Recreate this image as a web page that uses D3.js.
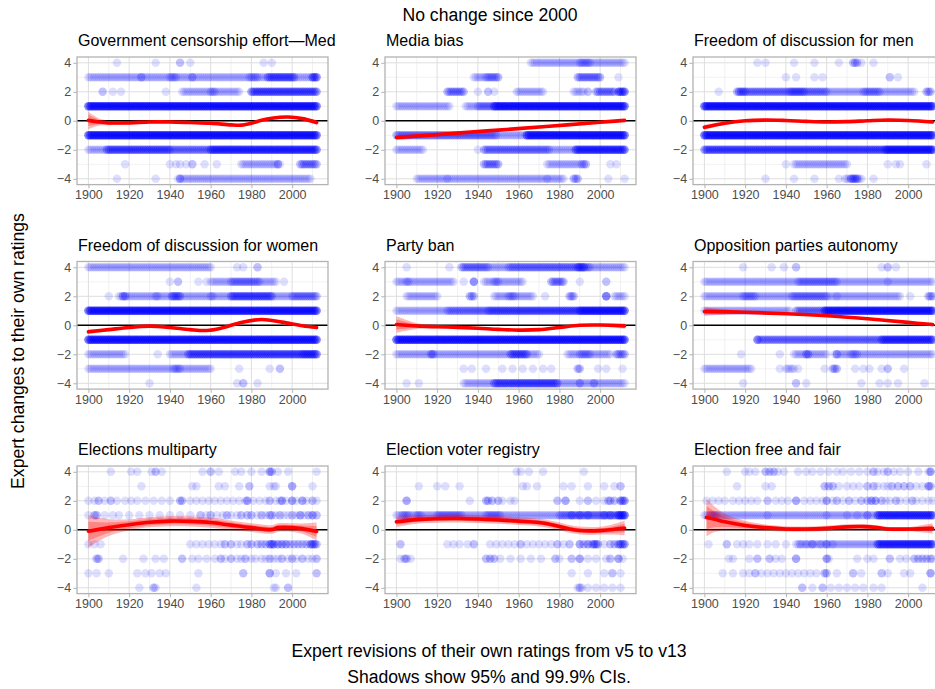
<!DOCTYPE html>
<html>
<head>
<meta charset="utf-8">
<script src="https://cdn.jsdelivr.net/npm/d3@7"></script>
<style>
  body { margin: 0; background: #fff; }
  svg { display: block; }
  text { font-family: "Liberation Sans", Arial, sans-serif; }
</style>
</head>
<body>
<svg id="chart" width="935" height="689"></svg>
<script>
// ---- Facet titles and axis ticks ----
const panelTitles = [
  "Government censorship effort\u2014Med", "Media bias", "Freedom of discussion for men",
  "Freedom of discussion for women", "Party ban", "Opposition parties autonomy",
  "Elections multiparty", "Election voter registry", "Election free and fair"
];
const xTicks = [1900, 1920, 1940, 1960, 1980, 2000];
const xMinorTicks = [1910, 1930, 1950, 1970, 1990, 2010];
const yTicks = [-4, -2, 0, 2, 4];
const yMinorTicks = [-3, -1, 1, 3];

// ---- Expert ratings changes ----
// runs: [change, firstYear, lastYear, ratingsPerYear]
// dots: [change, year, count]
const censorshipRuns = [
  [3,1900,2012,1],[3,1940,1943,1],[3,1979,1983,1],[3,1988,2001,2],[3,2010,2012,3],
  [2,1946,1974,1],[2,1960,1962,1],[2,1980,2012,3],
  [1,1900,2012,5],[-1,1900,2012,5],
  [-2,1900,1908,1],[-2,1909,1940,3],[-2,1941,1959,2],[-2,1960,2012,4],
  [-3,1975,1994,1],[-3,2004,2012,2],
  [-4,1944,1975,1],[-4,1976,2009,1]
];
const censorshipDots = [
  [4,1914,1],[4,1933,1],[4,1945,2],[4,1950,1],[4,1986,1],[4,1990,1],
  [3,1926,2],[3,1951,2],
  [2,1907,2],[2,1912,1],[2,1916,1],[2,1938,1],
  [-3,1918,1],[-3,1940,1],[-3,1943,1],[-3,1945,1],[-3,1948,1],[-3,1951,2],[-3,1957,1],[-3,1963,1],[-3,1993,2],
  [-4,1914,1],[-4,1933,1],[-4,1945,2]
];
const mediaRuns = [
  [4,1966,2012,1],[4,1990,1995,1],
  [3,1938,1943,1],[3,1944,1950,2],[3,1989,2000,2],
  [2,1925,1933,2],[2,1959,1972,1],[2,1987,1992,1],[2,1998,2007,2],[2,2009,2012,4],
  [1,1900,1926,1],[1,1934,1947,1],[1,1940,1947,1],[1,1948,2012,5],
  [-1,1900,1949,2],[-1,1950,1963,1],[-1,1964,2012,5],
  [-2,1900,1913,1],[-2,1943,1975,2],[-2,1976,1987,1],[-2,1988,2012,4],
  [-3,1943,1950,2],[-3,1974,1993,1],[-3,1991,1993,1],
  [-4,1910,1982,1],[-4,1987,1989,2]
];
const mediaDots = [
  [3,2009,1],
  [2,1940,1],[2,1945,2],[2,1948,1],[2,1994,2],
  [-2,1940,1],
  [-3,2005,1],[-3,2008,1],
  [-4,1925,1],[-4,1974,1],[-4,2004,1],[-4,2012,1]
];
const menRuns = [
  [4,1973,1975,2],
  [2,1916,2003,1],[2,1916,1960,1],[2,1917,1920,1],[2,1942,1949,1],[2,1978,1986,1],[2,2009,2011,2],
  [1,1900,2012,5],[-1,1900,2012,5],
  [-2,1900,1988,3],[-2,1989,2012,5],
  [-3,1944,1970,1],
  [-4,1969,1977,1],[-4,1972,1975,2]
];
const menDots = [
  [4,1926,1],[4,1930,1],[4,1944,1],[4,1954,1],[4,1966,1],[4,1977,1],[4,1983,1],
  [3,1940,1],[3,1945,1],[3,1954,1],[3,1958,1],[3,1991,2],[3,1995,1],
  [2,1907,1],
  [-3,1940,1],[-3,1990,1],[-3,1994,1],[-3,1996,1],[-3,2009,1],
  [-4,1930,1],[-4,1944,1],[-4,1954,1],[-4,1966,1],[-4,1983,1]
];
const womenRuns = [
  [4,1900,1960,1],
  [3,1960,1992,1],[3,1970,1984,1],
  [2,1915,2012,1],[2,1917,1918,2],[2,1933,1934,1],[2,1941,1945,2],[2,1960,1961,1],[2,1970,1990,2],[2,2000,2012,1],
  [1,1900,2012,5],[-1,1900,2012,5],
  [-2,1900,1918,1],[-2,1940,1948,1],[-2,1949,2012,3],[-2,2005,2012,1],
  [-3,1900,1960,1],[-3,1942,1945,1]
];
const womenDots = [
  [4,1973,1],[4,1976,1],[4,1983,2],
  [3,1940,1],[3,1944,2],[3,1954,1],[3,1958,1],[3,1996,1],
  [2,1910,1],
  [-2,1934,1],
  [-3,1974,1],[-3,1989,1],[-3,1994,2],
  [-4,1930,1],[-4,1973,1],[-4,1976,2],[-4,1983,1]
];
const partyRuns = [
  [4,1932,2012,1],[4,1932,1945,1],[4,1955,1995,1],[4,1989,1992,2],
  [3,1900,1928,1],[3,1905,1906,1],[3,1943,1962,1],[3,1948,1950,1],[3,1976,1982,2],
  [2,1905,1920,1],[2,1936,1938,2],[2,1948,1967,1],[2,1955,1958,1],[2,1985,1987,2],[2,2007,2012,1],
  [1,1900,1924,1],[1,1925,1944,2],[1,1945,1989,3],[1,1990,2012,5],
  [-1,1900,2012,5],
  [-2,1900,1970,1],[-2,1917,1918,2],[-2,1956,1964,2],[-2,1984,2005,1],[-2,1990,1995,1],[-2,2008,2012,2],
  [-3,1989,1990,2],
  [-4,1933,1947,1],[-4,1948,1979,3],[-4,1980,2012,1]
];
const partyDots = [
  [4,1905,1],[4,1926,1],
  [3,1933,1],[3,1938,4],[3,1990,1],[3,2003,2],
  [2,1973,1],[2,2003,5],
  [-3,1933,1],[-3,1937,1],[-3,1944,1],[-3,1952,1],[-3,1957,1],[-3,1962,1],[-3,1967,1],[-3,1972,1],
  [-3,1976,1],[-3,1999,1],[-3,2003,1],[-3,2011,1],
  [-4,1905,1],[-4,1911,1],[-4,1990,2],[-4,1997,2]
];
const oppositionRuns = [
  [3,1900,2012,1],[3,1946,1965,1],
  [2,1900,1996,1],[2,1919,1925,1],[2,1943,1960,1],[2,2010,2012,2],
  [1,1900,1942,1],[1,1945,1958,2],[1,1959,2012,5],
  [-1,1926,1986,2],[-1,1987,2012,4],
  [-2,1944,1960,1],[-2,1950,1951,2],[-2,1964,2012,1],[-2,1972,1975,1],
  [-3,1900,1923,1],[-3,1940,1944,1],[-3,1963,1965,2]
];
const oppositionDots = [
  [4,1919,1],[4,1933,1],[4,1939,1],[4,1945,2],[4,1987,1],[4,1990,2],[4,1994,1],
  [3,1990,1],
  [2,1965,1],[2,2001,1],
  [-1,1926,2],
  [-2,1918,1],[-2,1937,1],[-2,1965,2],
  [-3,1937,1],[-3,1946,1],[-3,1959,1],[-3,1974,1],[-3,1978,1],[-3,1981,1],[-3,1987,1],[-3,1990,2],[-3,1998,1],
  [-4,1919,1],[-4,1945,2],[-4,1950,1],[-4,1977,1],[-4,1986,1],[-4,1990,1],[-4,1995,1],[-4,2008,1]
];
const multipartyRuns = [];
const multipartyDots = [
  [4,1911,1],[4,1921,1],[4,1924,1],[4,1931,1],[4,1933,2],[4,1936,1],[4,1956,1],[4,1960,2],[4,1964,1],
  [4,1972,1],[4,1975,1],[4,1980,1],[4,1985,1],[4,1989,3],[4,1990,2],[4,1993,1],[4,1998,1],[4,2012,1],
  [3,1926,1],[3,1951,1],[3,1953,1],[3,1964,1],[3,1967,1],[3,1974,1],[3,1979,2],[3,1989,1],[3,1991,1],
  [3,1992,1],[3,2000,3],[3,2010,1],
  [2,1900,1],[2,1903,1],[2,1905,2],[2,1908,1],[2,1911,2],[2,1914,1],[2,1918,1],[2,1921,1],[2,1924,1],
  [2,1928,1],[2,1932,1],[2,1936,1],[2,1940,1],[2,1945,2],[2,1946,2],[2,1950,1],[2,1953,1],[2,1956,1],
  [2,1959,1],[2,1962,1],[2,1965,1],[2,1968,1],[2,1971,1],[2,1974,1],[2,1977,1],[2,1978,3],[2,1981,1],
  [2,1984,1],[2,1987,1],[2,1989,2],[2,1992,1],[2,1994,1],[2,1995,3],[2,1997,1],[2,2000,3],[2,2002,1],
  [2,2005,3],[2,2007,1],[2,2010,2],[2,2012,1],
  [1,1900,1],[1,1903,2],[1,1904,2],[1,1908,1],[1,1912,1],[1,1915,1],[1,1920,1],[1,1925,1],[1,1930,1],
  [1,1935,1],[1,1940,1],[1,1945,1],[1,1950,1],[1,1955,2],[1,1958,1],[1,1960,2],[1,1963,1],[1,1966,1],
  [1,1968,2],[1,1970,1],[1,1973,1],[1,1975,2],[1,1978,2],[1,1980,2],[1,1983,1],[1,1985,2],[1,1987,1],
  [1,1989,2],[1,1990,2],[1,1992,1],[1,1994,2],[1,1996,1],[1,1998,1],[1,2000,2],[1,2002,1],[1,2004,3],
  [1,2006,1],[1,2008,2],[1,2010,3],[1,2012,2],
  [-1,1900,1],[-1,1903,1],[-1,1906,1],[-1,1950,1],[-1,1953,1],[-1,1956,1],[-1,1959,1],[-1,1962,1],
  [-1,1965,1],[-1,1967,2],[-1,1970,2],[-1,1973,1],[-1,1975,1],[-1,1978,2],[-1,1980,2],[-1,1983,2],
  [-1,1985,2],[-1,1987,2],[-1,1989,3],[-1,1990,3],[-1,1991,3],[-1,1993,3],[-1,1995,3],[-1,1997,3],
  [-1,1999,2],[-1,2001,2],[-1,2003,2],[-1,2005,2],[-1,2007,2],[-1,2009,3],[-1,2010,3],[-1,2011,3],[-1,2012,2],
  [-2,1904,2],[-2,1905,2],[-2,1917,1],[-2,1927,1],[-2,1933,1],[-2,1937,1],[-2,1946,2],[-2,1951,1],
  [-2,1954,1],[-2,1958,1],[-2,1962,1],[-2,1965,2],[-2,1967,1],[-2,1970,2],[-2,1973,1],[-2,1975,1],
  [-2,1977,2],[-2,1980,1],[-2,1982,1],[-2,1985,1],[-2,1987,1],[-2,1989,2],[-2,1991,1],[-2,1993,1],
  [-2,1995,2],[-2,1998,1],[-2,2000,2],[-2,2002,1],[-2,2005,2],[-2,2008,1],[-2,2010,1],[-2,2012,2],
  [-3,1900,1],[-3,1904,1],[-3,1910,1],[-3,1924,1],[-3,1928,1],[-3,1931,1],[-3,1935,1],[-3,1938,1],
  [-3,1954,1],[-3,1976,2],[-3,1989,3],[-3,1992,1],[-3,1997,1],[-3,2002,1],[-3,2012,2],
  [-4,1925,1],[-4,1932,2],[-4,1933,1],[-4,1953,1],[-4,1991,1],[-4,1992,1],[-4,1998,2]
];
const registryRuns = [
  [1,1900,1979,1],[1,1903,1906,1],[1,1910,1912,1],[1,1920,1932,1],[1,1944,1951,1],
  [1,1980,2012,2],[1,2009,2012,3]
];
const registryDots = [
  [4,1959,1],[4,1961,1],[4,1965,1],[4,1972,1],[4,1992,1],
  [3,1911,1],[3,1920,1],[3,1924,1],[3,1931,1],[3,1962,1],[3,1964,1],[3,1969,1],[3,1982,1],[3,1986,1],
  [3,1994,1],[3,2002,1],[3,2007,1],[3,2010,2],
  [2,1905,3],[2,1936,1],[2,1944,2],[2,1945,2],[2,1947,2],[2,1950,2],[2,1952,1],[2,1956,1],[2,1958,1],
  [2,1979,2],[2,1983,3],[2,1990,1],[2,1994,2],[2,1998,1],[2,2002,1],[2,2004,2],[2,2005,2],[2,2007,2],
  [2,2010,3],[2,2011,3],[2,2012,3],
  [1,1986,2],[1,1990,2],[1,1994,2],[1,2002,2],[1,2005,2],
  [-1,1902,2],[-1,1925,1],[-1,1928,1],[-1,1931,1],[-1,1935,1],[-1,1938,2],[-1,1946,1],[-1,1949,1],
  [-1,1952,1],[-1,1955,1],[-1,1958,1],[-1,1961,2],[-1,1964,1],[-1,1967,1],[-1,1970,1],[-1,1973,1],
  [-1,1976,1],[-1,1979,2],[-1,1982,1],[-1,1985,2],[-1,1990,3],[-1,1992,2],[-1,1994,3],[-1,1996,2],
  [-1,1997,3],[-1,1998,3],[-1,1999,2],[-1,2002,1],[-1,2005,2],[-1,2007,2],[-1,2009,3],[-1,2010,3],
  [-1,2011,3],[-1,2012,3],
  [-2,1902,1],[-2,1904,2],[-2,1905,2],[-2,1907,1],[-2,1944,2],[-2,1946,2],[-2,1948,2],[-2,1951,1],
  [-2,1956,1],[-2,1961,1],[-2,1966,1],[-2,1971,1],[-2,1978,2],[-2,1980,1],[-2,1986,2],[-2,1990,3],
  [-2,1994,1],[-2,1998,1],[-2,2003,1],[-2,2005,2],[-2,2009,3],[-2,2011,1],
  [-3,1986,1],[-3,1994,1],[-3,2002,1],[-3,2006,2],[-3,2010,1],
  [-4,1989,1],[-4,1990,2],[-4,1991,1],[-4,1994,1],[-4,1998,1],[-4,2002,1],[-4,2006,1],[-4,2010,1]
];
const fairRuns = [
  [1,1900,2012,1],[1,1903,1906,1],[1,1985,2012,3],
  [-1,1945,1965,1],[-1,1966,1984,1],[-1,1985,2012,4]
];
const fairDots = [
  [4,1911,1],[4,1920,1],[4,1922,1],[4,1925,1],[4,1930,2],[4,1932,2],[4,1934,2],[4,1936,1],[4,1939,1],
  [4,1946,1],[4,1950,1],[4,1953,1],[4,1957,1],[4,1961,1],[4,1965,1],[4,1968,1],[4,1972,1],[4,1976,1],
  [4,1980,1],[4,1983,2],[4,1985,1],[4,1988,1],[4,1990,2],[4,1993,1],[4,1996,1],[4,2000,1],[4,2005,1],
  [4,2010,1],[4,2011,3],
  [3,1916,1],[3,1930,1],[3,1933,1],[3,1959,2],[3,1961,2],[3,1963,2],[3,1966,1],[3,1970,1],[3,1973,1],
  [3,1976,1],[3,1980,2],[3,1983,2],[3,1985,1],[3,1988,1],[3,1990,1],[3,1992,2],[3,1995,2],[3,1998,2],
  [3,2001,2],[3,2004,1],[3,2007,1],[3,2010,3],[3,2011,2],
  [2,1901,1],[2,1904,1],[2,1907,1],[2,1910,1],[2,1914,1],[2,1917,1],[2,1920,1],[2,1923,1],[2,1926,1],
  [2,1931,2],[2,1935,1],[2,1938,1],[2,1941,1],[2,1945,3],[2,1949,1],[2,1952,1],[2,1955,1],[2,1958,1],
  [2,1960,3],[2,1963,1],[2,1965,2],[2,1968,1],[2,1971,2],[2,1974,1],[2,1977,2],[2,1980,2],[2,1982,3],
  [2,1984,3],[2,1987,2],[2,1989,1],[2,1991,1],[2,1994,2],[2,1996,1],[2,1999,1],[2,2002,2],[2,2004,1],
  [2,2007,1],[2,2010,1],[2,2012,1],
  [1,1931,1],[1,1960,1],[1,1970,1],[1,1975,1],[1,1980,2],
  [-1,1902,1],[-1,1911,2],[-1,1916,1],[-1,1919,1],[-1,1922,1],[-1,1926,1],[-1,1931,1],[-1,1935,1],
  [-1,1940,1],[-1,1947,1],[-1,1950,1],[-1,1953,2],[-1,1957,1],[-1,1960,2],[-1,1963,1],
  [-2,1912,1],[-2,1914,1],[-2,1922,1],[-2,1926,2],[-2,1932,2],[-2,1935,1],[-2,1938,1],[-2,1945,3],
  [-2,1960,3],[-2,1961,1],[-2,1975,1],[-2,1980,1],[-2,1983,1],[-2,1991,2],[-2,1996,1],[-2,1999,1],
  [-2,2003,2],[-2,2005,2],[-2,2007,2],[-2,2009,2],[-2,2011,2],[-2,2012,1],
  [-3,1909,1],[-3,1914,1],[-3,1919,1],[-3,1922,1],[-3,1925,2],[-3,1928,1],[-3,1931,1],[-3,1934,1],
  [-3,1937,1],[-3,1940,1],[-3,1943,1],[-3,1946,1],[-3,1949,1],[-3,1952,1],[-3,1955,1],[-3,1959,2],
  [-3,1960,2],[-3,1965,1],[-3,1973,2],[-3,1977,1],[-3,1987,2],[-3,1990,1],[-3,1998,1],[-3,2001,1],[-3,2011,3],
  [-4,1948,2],[-4,1953,1],[-4,1958,2],[-4,1962,1],[-4,1966,1],[-4,1970,1],[-4,1974,1],[-4,1978,1],
  [-4,1983,1],[-4,1987,1],[-4,2007,1]
];

// ---- Smoothed trend: [year, fit, half-width 95% CI, half-width 99.9% CI] ----
const censorshipFit = [
  [1900,0.03,0.38,0.6],[1905,-0.08,0.16,0.26],[1910,-0.15,0.1,0.16],[1920,-0.14,0.07,0.12],
  [1930,-0.08,0.06,0.1],[1940,-0.08,0.06,0.1],[1950,-0.12,0.06,0.09],[1960,-0.17,0.05,0.09],
  [1970,-0.28,0.05,0.09],[1975,-0.3,0.05,0.09],[1980,-0.17,0.05,0.09],[1985,0.04,0.05,0.09],
  [1990,0.18,0.05,0.09],[1998,0.26,0.05,0.09],[2005,0.15,0.06,0.1],[2012,-0.12,0.1,0.17]
];
const mediaFit = [
  [1900,-1.15,0.1,0.17],[1925,-0.9,0.05,0.09],[1950,-0.64,0.04,0.07],[1975,-0.38,0.03,0.05],
  [2000,-0.1,0.03,0.05],[2012,0.03,0.04,0.07]
];
const menFit = [
  [1900,-0.45,0.1,0.17],[1910,-0.17,0.06,0.1],[1920,0.0,0.05,0.08],[1930,0.05,0.05,0.08],
  [1940,0.02,0.05,0.08],[1950,-0.04,0.05,0.08],[1960,-0.08,0.05,0.08],[1970,-0.06,0.05,0.08],
  [1980,0.0,0.05,0.08],[1990,0.05,0.05,0.08],[2000,0.02,0.05,0.08],[2012,-0.08,0.07,0.12]
];
const womenFit = [
  [1900,-0.45,0.1,0.17],[1910,-0.3,0.06,0.1],[1920,-0.15,0.05,0.09],[1930,-0.06,0.05,0.09],
  [1940,-0.15,0.05,0.09],[1950,-0.3,0.05,0.09],[1958,-0.36,0.05,0.09],[1965,-0.2,0.05,0.09],
  [1975,0.2,0.05,0.09],[1985,0.4,0.05,0.09],[1995,0.22,0.05,0.09],[2005,-0.03,0.05,0.09],
  [2012,-0.15,0.07,0.12]
];
const partyFit = [
  [1900,0.05,0.35,0.57],[1910,-0.05,0.12,0.2],[1920,-0.1,0.07,0.12],[1930,-0.14,0.06,0.1],
  [1940,-0.2,0.05,0.09],[1950,-0.28,0.05,0.09],[1960,-0.33,0.05,0.09],[1970,-0.3,0.05,0.09],
  [1980,-0.15,0.05,0.09],[1990,0.0,0.05,0.09],[2000,0.02,0.06,0.1],[2012,-0.05,0.12,0.2]
];
const oppositionFit = [
  [1900,0.95,0.18,0.3],[1920,0.9,0.06,0.1],[1940,0.8,0.04,0.07],[1960,0.66,0.04,0.07],
  [1980,0.45,0.04,0.07],[2000,0.2,0.04,0.07],[2012,0.05,0.05,0.09]
];
const multipartyFit = [
  [1900,-0.1,0.65,1.1],[1910,0.15,0.35,0.58],[1920,0.35,0.24,0.38],[1930,0.52,0.22,0.35],
  [1940,0.6,0.22,0.35],[1950,0.58,0.22,0.35],[1960,0.5,0.22,0.35],[1970,0.32,0.2,0.33],
  [1980,0.15,0.18,0.3],[1990,0.02,0.18,0.3],[1993,0.15,0.18,0.3],[2000,0.15,0.18,0.3],
  [2005,0.08,0.22,0.36],[2012,-0.12,0.38,0.62]
];
const registryFit = [
  [1900,0.55,0.22,0.36],[1910,0.7,0.17,0.28],[1920,0.76,0.16,0.27],[1930,0.78,0.16,0.27],
  [1940,0.74,0.16,0.27],[1950,0.68,0.16,0.27],[1960,0.6,0.16,0.27],[1970,0.5,0.16,0.27],
  [1978,0.3,0.16,0.27],[1985,0.06,0.16,0.27],[1990,-0.05,0.16,0.27],[1995,-0.08,0.16,0.27],
  [2000,-0.06,0.16,0.27],[2005,0.0,0.2,0.33],[2012,0.12,0.3,0.5]
];
const fairFit = [
  [1901,0.85,0.8,1.3],[1905,0.72,0.55,0.88],[1910,0.55,0.35,0.56],[1920,0.3,0.2,0.32],
  [1930,0.15,0.13,0.21],[1940,0.06,0.11,0.18],[1950,0.05,0.11,0.18],[1960,0.1,0.11,0.18],
  [1970,0.2,0.11,0.18],[1978,0.22,0.11,0.18],[1985,0.15,0.09,0.15],[1990,0.06,0.09,0.15],
  [2000,0.05,0.09,0.15],[2012,0.1,0.22,0.36]
];

const panels = [
  {runs: censorshipRuns, dots: censorshipDots, fit: censorshipFit},
  {runs: mediaRuns, dots: mediaDots, fit: mediaFit},
  {runs: menRuns, dots: menDots, fit: menFit},
  {runs: womenRuns, dots: womenDots, fit: womenFit},
  {runs: partyRuns, dots: partyDots, fit: partyFit},
  {runs: oppositionRuns, dots: oppositionDots, fit: oppositionFit},
  {runs: multipartyRuns, dots: multipartyDots, fit: multipartyFit},
  {runs: registryRuns, dots: registryDots, fit: registryFit},
  {runs: fairRuns, dots: fairDots, fit: fairFit}
].map((p, i) => Object.assign(p, {title: panelTitles[i]}));

// ---- Layout ----
const colLeft = [77, 385, 693];
const rowTop = [57, 261.5, 466];
const panelW = 251, panelH = 127.6;

const svg = d3.select("#chart");
svg.append("rect").attr("width", 935).attr("height", 689).attr("fill", "#fff");

const x = d3.scaleLinear().domain([1894.4, 2017.6]).range([0, panelW]);
const y = d3.scaleLinear().domain([-4.4, 4.4]).range([panelH, 0]);

function expandPoints(p) {
  const pts = [];
  p.runs.forEach(([lvl, a, b, n]) => {
    for (let yr = a; yr <= b; yr++) for (let k = 0; k < n; k++) pts.push([yr, lvl]);
  });
  p.dots.forEach(([lvl, yr, n]) => {
    for (let k = 0; k < n; k++) pts.push([yr, lvl]);
  });
  return pts;
}

const curve = d3.curveCatmullRom.alpha(0.5);
const band = (key) => d3.area()
  .x(d => x(d[0]))
  .y0(d => y(d[1] - d[key]))
  .y1(d => y(d[1] + d[key]))
  .curve(curve);
const trend = d3.line().x(d => x(d[0])).y(d => y(d[1])).curve(curve);

panels.forEach((p, i) => {
  const gx = colLeft[i % 3], gy = rowTop[Math.floor(i / 3)];
  const g = svg.append("g").attr("transform", `translate(${gx},${gy})`);

  g.append("rect").attr("width", panelW).attr("height", panelH).attr("fill", "#fff");

  // grid
  g.selectAll(".gxm").data(xMinorTicks).join("line")
    .attr("x1", d => x(d)).attr("x2", d => x(d)).attr("y1", 0).attr("y2", panelH)
    .attr("stroke", "#e8e8e8").attr("stroke-width", 0.6);
  g.selectAll(".gym").data(yMinorTicks).join("line")
    .attr("x1", 0).attr("x2", panelW).attr("y1", d => y(d)).attr("y2", d => y(d))
    .attr("stroke", "#e8e8e8").attr("stroke-width", 0.6);
  g.selectAll(".gxM").data(xTicks).join("line")
    .attr("x1", d => x(d)).attr("x2", d => x(d)).attr("y1", 0).attr("y2", panelH)
    .attr("stroke", "#dedede").attr("stroke-width", 1);
  g.selectAll(".gyM").data(yTicks).join("line")
    .attr("x1", 0).attr("x2", panelW).attr("y1", d => y(d)).attr("y2", d => y(d))
    .attr("stroke", "#dedede").attr("stroke-width", 1);

  // ratings
  g.append("g").selectAll("circle").data(expandPoints(p)).join("circle")
    .attr("cx", d => x(d[0])).attr("cy", d => y(d[1])).attr("r", 4.2)
    .attr("fill", "#0000ff").attr("fill-opacity", 0.13);

  // no-change reference
  g.append("line").attr("x1", 0).attr("x2", panelW).attr("y1", y(0)).attr("y2", y(0))
    .attr("stroke", "#000").attr("stroke-width", 1.5);

  // confidence bands and smooth
  g.append("path").datum(p.fit).attr("d", band(3)).attr("fill", "#ff0000").attr("fill-opacity", 0.28);
  g.append("path").datum(p.fit).attr("d", band(2)).attr("fill", "#ff0000").attr("fill-opacity", 0.28);
  g.append("path").datum(p.fit).attr("d", trend).attr("fill", "none")
    .attr("stroke", "#ff0000").attr("stroke-width", 3.6).attr("stroke-linecap", "round");

  // border
  g.append("rect").attr("width", panelW).attr("height", panelH)
    .attr("fill", "none").attr("stroke", "#b3b3b3").attr("stroke-width", 1.3);

  // axes
  const ax = g.append("g").attr("transform", `translate(0,${panelH})`)
    .call(d3.axisBottom(x).tickValues(xTicks).tickFormat(d3.format("d")).tickSize(3.7).tickPadding(2.2));
  const ay = g.append("g")
    .call(d3.axisLeft(y).tickValues(yTicks).tickFormat(d3.format("d")).tickSize(3.7).tickPadding(2.2));
  [ax, ay].forEach(a => {
    a.select(".domain").remove();
    a.selectAll(".tick line").attr("stroke", "#b3b3b3");
    a.selectAll(".tick text").attr("fill", "#4d4d4d").style("font-size", "12.5px")
      .style("font-family", "'Liberation Sans', Arial, sans-serif");
  });

  // facet title
  g.append("text").attr("x", 1).attr("y", -11).text(p.title)
    .attr("fill", "#000").style("font-size", "16px");
});

// overall titles
svg.append("text").attr("x", 490).attr("y", 20.7).attr("text-anchor", "middle")
  .style("font-size", "17.6px").text("No change since 2000");
svg.append("text").attr("transform", "translate(23.5,351) rotate(-90)").attr("text-anchor", "middle")
  .style("font-size", "17.6px").text("Expert changes to their own ratings");
svg.append("text").attr("x", 489).attr("y", 657).attr("text-anchor", "middle")
  .style("font-size", "17.6px").text("Expert revisions of their own ratings from v5 to v13");
svg.append("text").attr("x", 489).attr("y", 682.5).attr("text-anchor", "middle")
  .style("font-size", "17.6px").text("Shadows show 95% and 99.9% CIs.");
</script>
</body>
</html>
